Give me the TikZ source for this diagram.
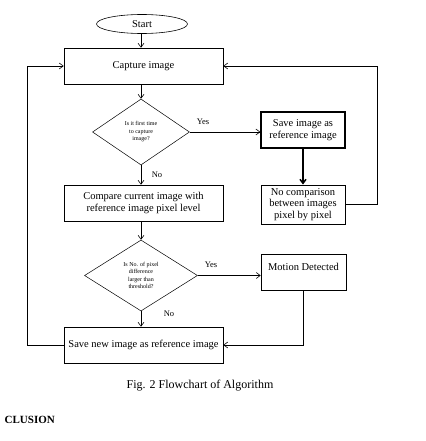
\documentclass[tikz,border=0pt]{standalone}
\usepackage{fontspec}
\setmainfont{Liberation Serif}
\usetikzlibrary{shapes.geometric,arrows.meta}
\tikzset{
  box/.style={draw,rectangle,line width=0.6pt,inner sep=1pt,align=center,font=\fontsize{10.5}{12}\selectfont},
  thickbox/.style={box,line width=1.2pt},
  dec/.style={draw,diamond,line width=0.5pt,inner sep=0pt,align=center,font=\fontsize{6}{7.5}\selectfont},
  term/.style={draw,ellipse,line width=0.6pt,inner sep=0pt,font=\fontsize{10.5}{12}\selectfont},
  lbl/.style={font=\fontsize{8.5}{10}\selectfont,inner sep=0pt},
  arr/.style={line width=0.6pt,-{Straight Barb[length=4pt,width=6pt]}},
}
\begin{document}
\begin{tikzpicture}[x=1pt,y=-1pt]
\useasboundingbox (0,0) rectangle (425,441);
\node[term,minimum width=91,minimum height=19] (start) at (142,24) {Start};
\node[box,minimum width=159,minimum height=36] (capture) at (143.5,66) {Capture image};
\node[dec,minimum width=97,minimum height=66] (d1) at (141,132) {Is it first time\\to capture\\image?};
\node[thickbox,minimum width=84,minimum height=36] (save) at (303,130) {Save image as\\reference image};
\node[box,line width=0.9pt,minimum width=84,minimum height=39,inner sep=0pt,font=\fontsize{10.5}{11.6}\selectfont] (nocmp) at (303,204.5) {No comparison\\between images\\pixel by pixel};
\node[box,minimum width=159,minimum height=36] (compare) at (143.5,203) {Compare current image with\\reference image pixel level};
\node[dec,minimum width=113,minimum height=71] (d2) at (141,275.5) {Is No. of pixel\\difference\\larger than\\threshold?};
\node[box,minimum width=85,minimum height=36,text depth=10pt] (motion) at (303.5,272) {Motion Detected};
\node[box,minimum width=159,minimum height=36] (savenew) at (143.5,345) {Save new image as reference image};
\coordinate (rc) at (377,66);
\coordinate (lc) at (27,66);
\draw[arr] (start.south -| d1.north) -- (capture.north -| d1.north);
\draw[arr] (capture.south -| d1.north) -- (d1.north);
\draw[arr] (d1.east) -- (d1.east -| save.west);
\node[lbl] (yes1) at (203,122) {Yes};
\draw[arr,line width=1.5pt] (save.south) -- (nocmp.north);
\draw[arr] (nocmp.east) -| (rc) -- (capture.east);
\draw[arr] (d1.south) -- (compare.north -| d1.south);
\node[lbl] (no1) at (157,175) {No};
\draw[arr] (compare.south -| d2.north) -- (d2.north);
\draw[arr] (d2.east) -- (d2.east -| motion.west);
\node[lbl] (yes2) at (211,265) {Yes};
\draw[arr] (motion.south) |- (savenew.east);
\draw[arr] (d2.south) -- (savenew.north -| d2.south);
\node[lbl] (no2) at (169,314) {No};
\draw[arr] (savenew.west) -| (lc) -- (capture.west);
\node[font=\fontsize{12}{14}\selectfont,inner sep=0pt] (cap) at (200,386) {Fig. 2 Flowchart of Algorithm};
\node[font=\fontsize{11}{13}\selectfont\bfseries,inner sep=0pt,anchor=east] (concl) at (55,420) {CLUSION};
\end{tikzpicture}
\end{document}
